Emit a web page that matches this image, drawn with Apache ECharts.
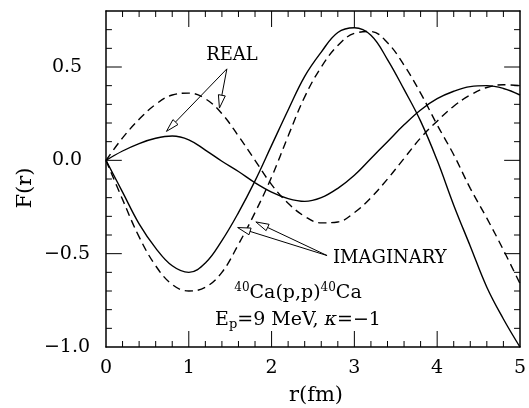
<!DOCTYPE html>
<html><head><meta charset="utf-8">
<script src="https://cdn.jsdelivr.net/npm/echarts@6/dist/echarts.min.js"></script>
<style>html,body{margin:0;padding:0;background:#fff}#c{width:529px;height:408px}</style>
</head><body><div id="c"></div>
<script>
// r values (fm)
const rValues = [0,0.2,0.4,0.6,0.8,1.0,1.2,1.4,1.6,1.8,2.0,2.2,2.4,2.6,2.8,3.0,3.2,3.4,3.6,3.8,4.0,4.2,4.4,4.6,4.8,5.0];
// REAL parts
const realSolid  = [0,0.05,0.09,0.118,0.13,0.11,0.055,-0.005,-0.06,-0.12,-0.17,-0.205,-0.22,-0.20,-0.15,-0.08,0.01,0.10,0.19,0.27,0.33,0.37,0.395,0.40,0.385,0.35];
const realDashed = [0,0.12,0.22,0.30,0.35,0.36,0.33,0.25,0.13,0.0,-0.13,-0.23,-0.30,-0.335,-0.33,-0.28,-0.20,-0.10,0.01,0.12,0.21,0.29,0.35,0.39,0.405,0.40];
// IMAGINARY parts
const imagSolid  = [0,-0.17,-0.34,-0.47,-0.565,-0.60,-0.55,-0.43,-0.28,-0.11,0.08,0.27,0.45,0.58,0.685,0.71,0.67,0.54,0.38,0.21,0.0,-0.24,-0.46,-0.68,-0.85,-1.0];
const imagDashed = [0,-0.21,-0.41,-0.565,-0.665,-0.70,-0.68,-0.60,-0.45,-0.28,-0.09,0.13,0.34,0.50,0.615,0.68,0.69,0.63,0.51,0.36,0.19,0.03,-0.15,-0.31,-0.48,-0.66];
// axis ranges and tick labels
const xMin = 0, xMax = 5, xStep = 1;
const yMin = -1, yMax = 0.8, yStep = 0.5;
const xTicks = [0,1,2,3,4,5];
const yTicks = [-1.0,-0.5,0.0,0.5];
const minorPerMajor = 5;
// annotation arrows: [fromX, fromY, toX, toY] in data units
const realArrows = [[1.46,0.49,0.73,0.155],[1.46,0.49,1.37,0.28]];
const imagArrows = [[2.67,-0.51,1.59,-0.36],[2.67,-0.51,1.81,-0.33]];

const FONT = 'DejaVu Serif';
const GRID = {left:106, right:4, top:11, bottom:61};
const chart = echarts.init(document.getElementById('c'));
function pairs(ys){ return rValues.map((x,i)=>[x, ys[i]]); }
function fmtY(v){
  if (yTicks.every(t => Math.abs(t-v) > 1e-9)) return '';
  const s = Math.abs(v).toFixed(1);
  return v < -1e-9 ? '\u2212' + s : s;
}
// tick marks as short line segments in data units (lengths from the grid's pixel size)
const plotW = chart.getWidth() - GRID.left - GRID.right;
const plotH = chart.getHeight() - GRID.top - GRID.bottom;
const xPerPx = (xMax - xMin) / plotW, yPerPx = (yMax - yMin) / plotH;
const tickSeries = [];
function tickSeg(a, b){
  tickSeries.push({type:'line', data:[a, b], showSymbol:false, symbol:'none', silent:true, animation:false, clip:false,
    xAxisIndex:0, yAxisIndex:0, z:10, lineStyle:{color:'#000', width:1}, emphasis:{disabled:true}});
}
(function(){
  const nX = Math.round((xMax-xMin)/xStep*minorPerMajor);
  for (let i = 1; i < nX; i++) {
    const v = +(xMin + i*xStep/minorPerMajor).toFixed(6);
    const L = ((i % minorPerMajor === 0) ? 16 : 6) * yPerPx;
    tickSeg([v, yMin], [v, yMin + L]);
    tickSeg([v, yMax], [v, yMax - L]);
  }
  const nY = Math.round((yMax-yMin)/(yStep/minorPerMajor));
  for (let i = 1; i < nY; i++) {
    const v = +(yMin + i*yStep/minorPerMajor).toFixed(6);
    const L = ((i % minorPerMajor === 0) ? 16 : 6) * xPerPx;
    tickSeg([xMin, v], [xMin + L, v]);
    tickSeg([xMax, v], [xMax - L, v]);
  }
})();
function axisParts(){
  return {
    axisLine:{show:true, onZero:false, lineStyle:{color:'#000', width:1.5}},
    axisTick:{show:false},
    minorTick:{show:false},
    splitLine:{show:false},
    minorSplitLine:{show:false}
  };
}
function lineSeries(ys, dashed){
  return {type:'line', data:pairs(ys), xAxisIndex:0, yAxisIndex:0, showSymbol:false, symbol:'none', smooth:0.4,
    lineStyle:{color:'#000', width:1.4, type: dashed ? [8,5] : 'solid'}, animation:false, silent:true};
}
function arrowItem(params, api){
  const p0 = api.coord([api.value(0), api.value(1)]);
  const p1 = api.coord([api.value(2), api.value(3)]);
  const dx = p1[0]-p0[0], dy = p1[1]-p0[1];
  const L = Math.hypot(dx,dy), ux = dx/L, uy = dy/L;
  const hl = 13, hw = 3.5;
  const bx = p1[0]-ux*hl, by = p1[1]-uy*hl;
  const nx = -uy, ny = ux;
  return {type:'group', children:[
    {type:'line', shape:{x1:p0[0], y1:p0[1], x2:bx, y2:by}, style:{stroke:'#000', lineWidth:1}},
    {type:'polygon', shape:{points:[[p1[0],p1[1]],[bx+nx*hw,by+ny*hw],[bx-nx*hw,by-ny*hw]]}, style:{fill:'#fff', stroke:'#000', lineWidth:1}}
  ]};
}
const texts = [
  {type:'text', x:232, y:55, style:{text:'REAL', font:'18px "DejaVu Serif"', fill:'#000', textAlign:'center', textVerticalAlign:'middle'}},
  {type:'text', x:333, y:258, style:{text:'IMAGINARY', font:'18px "DejaVu Serif"', fill:'#000', textAlign:'left', textVerticalAlign:'middle'}},
  {type:'text', x:298, y:293, style:{text:'{sup|40}{b|Ca(p,p)}{sup|40}{b|Ca}', textAlign:'center', textVerticalAlign:'middle',
    rich:{b:{fontFamily:FONT, fontSize:19, lineHeight:22, color:'#000'}, sup:{fontFamily:FONT, fontSize:12, lineHeight:12, verticalAlign:'top', color:'#000'}}}},
  {type:'text', x:298, y:320, style:{text:'{b|E}{sub|p}{b|=9 MeV, }{it|\u03ba}{b|=\u22121}', textAlign:'center', textVerticalAlign:'middle',
    rich:{b:{fontFamily:FONT, fontSize:19, lineHeight:22, color:'#000'}, it:{fontFamily:FONT, fontStyle:'italic', fontSize:19, lineHeight:22, color:'#000'}, sub:{fontFamily:FONT, fontSize:13, lineHeight:12, verticalAlign:'bottom', color:'#000'}}}},
  {type:'text', x:316, y:396, style:{text:'r(fm)', font:'21px "DejaVu Serif"', fill:'#000', textAlign:'center', textVerticalAlign:'middle'}},
  {type:'text', x:26, y:188, rotation:Math.PI/2, style:{text:'F(r)', font:'21px "DejaVu Serif"', fill:'#000', textAlign:'center', textVerticalAlign:'middle'}}
];
chart.setOption({
  animation:false,
  backgroundColor:'#fff',
  grid:Object.assign({containLabel:false}, GRID),
  xAxis:[
    Object.assign({type:'value', position:'bottom', min:xMin, max:xMax, interval:xStep,
      axisLabel:{show:true, margin:12, fontFamily:FONT, fontSize:19, color:'#000',
        formatter:v=>(xTicks.indexOf(Math.round(v))>=0 ? String(Math.round(v)) : '')}}, axisParts()),
    Object.assign({type:'value', position:'top', min:xMin, max:xMax, interval:xStep, axisLabel:{show:false}}, axisParts())
  ],
  yAxis:[
    Object.assign({type:'value', position:'left', min:yMin, max:yMax, interval:yStep,
      axisLabel:{show:true, margin:39, align:'center', fontFamily:FONT, fontSize:19, color:'#000', formatter:fmtY}}, axisParts()),
    Object.assign({type:'value', position:'right', min:yMin, max:yMax, interval:yStep, axisLabel:{show:false}}, axisParts())
  ],
  series:[
    lineSeries(realSolid,false),
    lineSeries(realDashed,true),
    lineSeries(imagSolid,false),
    lineSeries(imagDashed,true)
  ].concat(tickSeries).concat([
    {type:'custom', xAxisIndex:0, yAxisIndex:0, renderItem:arrowItem, data:realArrows.concat(imagArrows), silent:true, clip:false, z:5}
  ]),
  graphic:texts
});
</script></body></html>
